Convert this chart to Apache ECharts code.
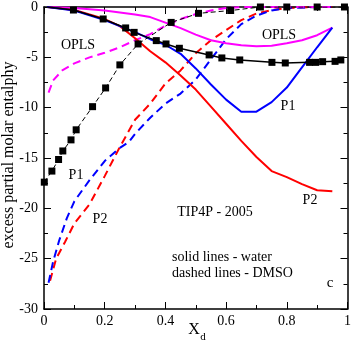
<!DOCTYPE html>
<html>
<head>
<meta charset="utf-8">
<script src="https://cdn.jsdelivr.net/npm/echarts@6/dist/echarts.min.js"></script>
<style>
html, body { margin: 0; padding: 0; background: #fff; }
#chart { width: 354px; height: 349px; }
</style>
</head>
<body>
<div id="chart"></div>
<script>
// black solid with squares (water)
var refWaterX = [0.01, 0.097, 0.195, 0.269, 0.297, 0.37, 0.402, 0.446, 0.544, 0.586, 0.645, 0.751, 0.795, 0.875, 0.895, 0.918, 0.959, 0.978];
var refWaterY = [0, -0.3, -1.19, -2.08, -2.52, -3.34, -3.67, -4.1, -4.76, -5.06, -5.26, -5.5, -5.56, -5.5, -5.5, -5.43, -5.4, -5.26];
// black dashed with squares (DMSO)
var refDmsoX = [0.001, 0.026, 0.048, 0.062, 0.089, 0.106, 0.160, 0.203, 0.25, 0.31, 0.419, 0.509, 0.615, 0.713, 0.80, 0.90, 0.99];
var refDmsoY = [-17.4, -16.3, -15.15, -14.3, -13.2, -12.2, -9.9, -8.04, -5.75, -3.67, -1.53, -0.63, -0.35, 0, 0, 0, 0];

// OPLS (magenta)
var oplsWaterX = [0.01, 0.1, 0.2, 0.3, 0.35, 0.4, 0.45, 0.5, 0.55, 0.6, 0.65, 0.7, 0.75, 0.8, 0.85, 0.9, 0.95];
var oplsWaterY = [0, -0.1, -0.35, -0.75, -1.0, -1.55, -2.1, -2.75, -3.3, -3.6, -3.8, -3.9, -3.85, -3.6, -3.3, -2.8, -2.05];
var oplsDmsoX = [0.015, 0.03, 0.06, 0.1, 0.15, 0.2, 0.25, 0.3, 0.35, 0.4, 0.45, 0.5, 0.55, 0.6, 0.65, 0.7, 0.8, 0.9, 0.95];
var oplsDmsoY = [-8.5, -7.3, -6.3, -5.6, -5.0, -4.55, -4.0, -3.3, -2.7, -1.85, -1.2, -0.7, -0.35, -0.1, 0, 0, 0, 0, 0];

// P1 (blue)
var p1WaterX = [0.01, 0.1, 0.2, 0.3, 0.35, 0.4, 0.45, 0.5, 0.55, 0.6, 0.65, 0.7, 0.75, 0.8, 0.85, 0.9, 0.95];
var p1WaterY = [0, -0.35, -1.3, -2.5, -3.2, -3.75, -4.65, -6.1, -7.7, -9.2, -10.4, -10.4, -9.45, -8.0, -6.0, -4.0, -2.05];
var p1DmsoX = [0.015, 0.03, 0.05, 0.075, 0.1, 0.15, 0.2, 0.25, 0.28, 0.3, 0.35, 0.4, 0.45, 0.5, 0.55, 0.6, 0.65, 0.7, 0.75, 0.8, 0.9, 0.95];
var p1DmsoY = [-27.4, -25.3, -23.2, -21.0, -19.3, -17.2, -15.3, -14.0, -13.4, -12.6, -11.0, -9.6, -8.6, -7.2, -5.2, -3.2, -1.7, -0.85, -0.35, -0.1, 0, 0];

// P2 (red)
var p2WaterX = [0.01, 0.1, 0.2, 0.25, 0.3, 0.35, 0.4, 0.45, 0.5, 0.55, 0.6, 0.65, 0.7, 0.75, 0.8, 0.85, 0.9, 0.95];
var p2WaterY = [0, -0.3, -1.2, -1.9, -3.1, -4.4, -5.5, -6.8, -8.2, -9.9, -11.6, -13.3, -14.9, -16.3, -16.9, -17.6, -18.2, -18.3];
var p2DmsoX = [0.02, 0.04, 0.07, 0.1, 0.15, 0.2, 0.25, 0.3, 0.35, 0.4, 0.45, 0.5, 0.55, 0.6, 0.65, 0.7, 0.75, 0.8, 0.9, 0.95];
var p2DmsoY = [-27.2, -25.0, -23.3, -21.5, -19.6, -16.8, -13.9, -11.2, -9.6, -7.6, -6.3, -4.6, -3.3, -2.3, -1.3, -0.65, -0.3, -0.1, 0, 0];

var xTicks = [0, 0.2, 0.4, 0.6, 0.8, 1];
var yTicks = [-30, -25, -20, -15, -10, -5, 0];

var serif = 'Liberation Serif';

function pairs(xs, ys) {
  return xs.map(function (x, i) { return [x, ys[i]]; });
}
// first point of the marked curves has no square
function pairsMarked(xs, ys, skipFirst) {
  return xs.map(function (x, i) {
    if (skipFirst && i === 0) return { value: [x, ys[i]], symbol: 'none' };
    return [x, ys[i]];
  });
}

function line(name, data, color, width, dashed, z) {
  return {
    name: name,
    type: 'line',
    data: data,
    showSymbol: false,
    symbol: 'none',
    lineStyle: { color: color, width: width, type: dashed ? [8, 5] : 'solid' },
    z: z || 2,
    silent: true,
    animation: false
  };
}

var chart = echarts.init(document.getElementById('chart'));

var axisCommon = {
  type: 'value',
  axisLine: { show: true, onZero: false, lineStyle: { color: '#000', width: 1.5 } },
  axisTick: { show: true, inside: true, length: 7, lineStyle: { color: '#000', width: 1 } },
  minorTick: { show: true, splitNumber: 2, length: 4, lineStyle: { color: '#000', width: 1 } },
  splitLine: { show: false },
  minorSplitLine: { show: false }
};

var option = {
  animation: false,
  backgroundColor: '#fff',
  grid: { left: 44, right: 5, top: 6, bottom: 40, containLabel: false },
  xAxis: [
    Object.assign({}, axisCommon, {
      min: 0, max: 1, interval: 0.2, position: 'bottom',
      axisLabel: { show: true, margin: 5, color: '#000', fontFamily: serif, fontSize: 14,
        formatter: function (v) { return xTicks.indexOf(Math.round(v * 10) / 10) >= 0 ? String(Math.round(v * 10) / 10) : ''; } }
    }),
    Object.assign({}, axisCommon, {
      min: 0, max: 1, interval: 0.2, position: 'top',
      axisLabel: { show: false }
    })
  ],
  yAxis: [
    Object.assign({}, axisCommon, {
      min: -30, max: 0, interval: 5, position: 'left',
      axisLabel: { show: true, margin: 6, color: '#000', fontFamily: serif, fontSize: 14,
        formatter: function (v) { return yTicks.indexOf(v) >= 0 ? String(v) : ''; } }
    }),
    Object.assign({}, axisCommon, {
      min: -30, max: 0, interval: 5, position: 'right',
      axisLabel: { show: false }
    })
  ],
  series: [
    line('P2 DMSO', pairs(p2DmsoX, p2DmsoY), '#ff0000', 2, true),
    line('P1 DMSO', pairs(p1DmsoX, p1DmsoY), '#0000ff', 2, true),
    line('OPLS DMSO', pairs(oplsDmsoX, oplsDmsoY), '#ff00ff', 2, true),
    line('OPLS water', pairs(oplsWaterX, oplsWaterY), '#ff00ff', 2, false),
    line('P2 water', pairs(p2WaterX, p2WaterY), '#ff0000', 2, false),
    line('P1 water', pairs(p1WaterX, p1WaterY), '#0000ff', 2, false),
    {
      name: 'ref DMSO', type: 'line', data: pairsMarked(refDmsoX, refDmsoY, false),
      symbol: 'rect', symbolSize: 7, showSymbol: true,
      itemStyle: { color: '#000' },
      lineStyle: { color: '#000', width: 1, type: [5, 3] },
      z: 5, silent: true, animation: false
    },
    {
      name: 'ref water', type: 'line', data: pairsMarked(refWaterX, refWaterY, true),
      symbol: 'rect', symbolSize: 7, showSymbol: true,
      itemStyle: { color: '#000' },
      lineStyle: { color: '#000', width: 1.5 },
      z: 5, silent: true, animation: false
    }
  ],
  graphic: [
    { type: 'text', x: 9, y: 155, rotation: Math.PI / 2,
      style: { text: 'excess partial molar entalphy', font: '16px ' + serif, fill: '#000', align: 'center', verticalAlign: 'middle' } },
    { type: 'text', x: 194, y: 330,
      style: { text: 'X', font: '16px ' + serif, fill: '#000', align: 'center', verticalAlign: 'middle' } },
    { type: 'text', x: 203, y: 337,
      style: { text: 'd', font: '11px ' + serif, fill: '#000', align: 'center', verticalAlign: 'middle' } },
    { type: 'text', x: 78, y: 45, z: 10,
      style: { text: 'OPLS', font: '14px ' + serif, fill: '#000', align: 'center', verticalAlign: 'middle' } },
    { type: 'text', x: 279, y: 35, z: 10,
      style: { text: 'OPLS', font: '14px ' + serif, fill: '#000', align: 'center', verticalAlign: 'middle' } },
    { type: 'text', x: 76, y: 175, z: 10,
      style: { text: 'P1', font: '14px ' + serif, fill: '#000', align: 'center', verticalAlign: 'middle' } },
    { type: 'text', x: 100, y: 219, z: 10,
      style: { text: 'P2', font: '14px ' + serif, fill: '#000', align: 'center', verticalAlign: 'middle' } },
    { type: 'text', x: 288, y: 106, z: 10,
      style: { text: 'P1', font: '14px ' + serif, fill: '#000', align: 'center', verticalAlign: 'middle' } },
    { type: 'text', x: 310, y: 200, z: 10,
      style: { text: 'P2', font: '14px ' + serif, fill: '#000', align: 'center', verticalAlign: 'middle' } },
    { type: 'text', x: 215, y: 212, z: 10,
      style: { text: 'TIP4P - 2005', font: '14px ' + serif, fill: '#000', align: 'center', verticalAlign: 'middle' } },
    { type: 'text', x: 172, y: 257, z: 10,
      style: { text: 'solid lines - water', font: '14px ' + serif, fill: '#000', align: 'left', verticalAlign: 'middle' } },
    { type: 'text', x: 172, y: 273, z: 10,
      style: { text: 'dashed lines - DMSO', font: '14px ' + serif, fill: '#000', align: 'left', verticalAlign: 'middle' } },
    { type: 'text', x: 330, y: 283, z: 10,
      style: { text: 'c', font: '15px ' + serif, fill: '#000', align: 'center', verticalAlign: 'middle' } }
  ]
};

chart.setOption(option);
</script>
</body>
</html>
